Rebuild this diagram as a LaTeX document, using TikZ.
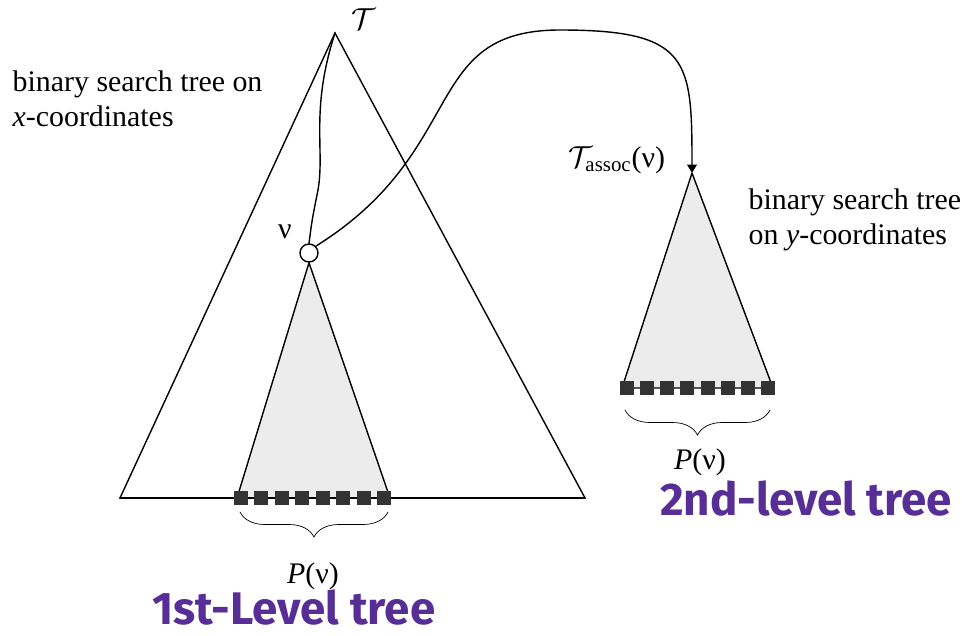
\documentclass[tikz,border=0pt]{standalone}
\usepackage{fontspec}
\setmainfont{Liberation Serif}
\newfontfamily\handfont{Fira Sans}
\usetikzlibrary{positioning,arrows.meta,decorations.pathreplacing}
\definecolor{ink}{RGB}{86,46,150}
\tikzset{
	leaf/.style={fill=black!80,minimum size=2.8mm,inner sep=0pt},
	subtree/.style={draw,fill=gray!15,line join=round},
	setbrace/.style={decorate,decoration={brace,mirror,amplitude=5mm}},
	note/.style={align=left,font=\fontsize{17}{20}\selectfont,inner sep=0pt},
	hand/.style={text=ink,font=\handfont\bfseries\fontsize{26}{26}\selectfont,inner sep=0pt}
}
\begin{document}
\begin{tikzpicture}[x=0.2mm,y=-0.2mm,line cap=round,>=Triangle,thick]
		\useasboundingbox (0,0) rectangle (977,636);
		% 1st-level tree
		\coordinate (root) at (335,33);
		\draw (root)--(120,498)--(585,498)--cycle;
		\node[circle,draw,fill=white,minimum size=3.6mm,inner sep=0pt] (v) at (309,253) {};
		\draw[subtree] (v.south)--(237,498)--(390,498)--cycle;
		\draw (120,498)--(585,498);
		\foreach \i in {0,...,7}
			\node[leaf] (a\i) at ({241+\i*20.43},498) {};
		\draw (root) .. controls (310,110) and (325,150) .. (318,190) .. controls (312,220) .. (v.north);
		% 2nd-level tree
		\coordinate (assoc) at (692,173);
		\draw[subtree] (assoc)--(622,388)--(773,388)--cycle;
		\foreach \i in {0,...,7}
			\node[leaf] (b\i) at ({627+\i*20.14},388) {};
		\draw[->] (v.north east) .. controls (470,150) and (420,30) .. (560,30) .. controls (690,30) and (692,60) .. (assoc);
		% braces
		\draw[thin,setbrace] (240,512)--(388,512);
		\draw[thin,setbrace] (625,410)--(770,410);
		% labels
		\node[note] at (364,19) {$\mathcal{T}$};
		\node[note] at (285,232) {ν};
		\node[note] at (617,160) {$\mathcal{T}_{\mathrm{assoc}}$(ν)};
		\node[note,anchor=north west] at (12,70) {binary search tree on\\\textit{x}-coordinates};
		\node[note,anchor=north west] at (748,188) {binary search tree\\on \textit{y}-coordinates};
		\node[note] at (313,576) {\textit{P}(ν)};
		\node[note] at (700,462) {\textit{P}(ν)};
		\node[hand,anchor=base] at (294,624) {1st-Level tree};
		\node[hand,anchor=base] at (806,515) {2nd-level tree};
	\end{tikzpicture}
\end{document}
